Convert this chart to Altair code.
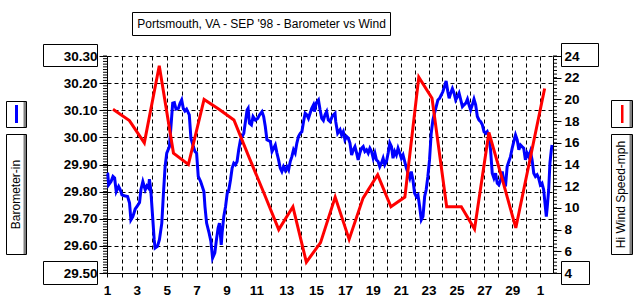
import altair as alt
import pandas as pd

# ---- data ----
baro_day = [1.00, 1.05, 1.11, 1.27, 1.40, 1.51, 1.62, 1.78, 1.89, 2.00, 2.16, 2.38, 2.51, 2.60, 2.73, 2.89,
            3.00, 3.18, 3.27, 3.40, 3.56, 3.67, 3.78, 3.84, 3.93, 4.07, 4.16, 4.22, 4.38, 4.51, 4.67, 4.78,
            4.89, 5.00, 5.18, 5.29, 5.40, 5.51, 5.62, 5.78, 5.89, 6.00, 6.11, 6.22, 6.33, 6.51, 6.62, 6.78,
            6.89, 7.00, 7.11, 7.27, 7.38, 7.49, 7.56, 7.67, 7.84, 7.96, 8.07, 8.22, 8.33, 8.44, 8.53, 8.65,
            8.71, 8.82, 8.94, 9.05, 9.16, 9.27, 9.38, 9.49, 9.60, 9.71, 9.82, 9.94, 10.05, 10.16, 10.27, 10.38,
            10.45, 10.54, 10.67, 10.78, 10.94, 11.09, 11.22, 11.38, 11.49, 11.60, 11.71, 11.82, 11.94, 12.05,
            12.16, 12.27, 12.38, 12.49, 12.60, 12.71, 12.82, 12.94, 13.05, 13.16, 13.27, 13.38, 13.49, 13.60,
            13.71, 13.82, 13.94, 14.05, 14.16, 14.27, 14.38, 14.49, 14.60, 14.71, 14.82, 14.89, 15.00, 15.16,
            15.27, 15.38, 15.49, 15.60, 15.71, 15.82, 15.94, 16.09, 16.17, 16.29, 16.34, 16.48, 16.65, 16.76,
            16.88, 17.00, 17.12, 17.24, 17.36, 17.48, 17.60, 17.72, 17.84, 17.95, 18.07, 18.19, 18.31, 18.43,
            18.55, 18.67, 18.79, 18.91, 19.03, 19.15, 19.26, 19.38, 19.50, 19.62, 19.74, 19.86, 19.98, 20.10,
            20.22, 20.34, 20.45, 20.57, 20.69, 20.81, 20.93, 21.05, 21.17, 21.29, 21.41, 21.53, 21.65, 21.76,
            21.88, 22.00, 22.12, 22.24, 22.36, 22.48, 22.60, 22.72, 22.83, 22.95, 23.07, 23.19, 23.31, 23.43,
            23.55, 23.67, 23.79, 23.91, 24.03, 24.14, 24.26, 24.38, 24.48, 24.59, 24.71, 24.83, 24.95, 25.07,
            25.19, 25.31, 25.43, 25.55, 25.67, 25.79, 25.90, 26.02, 26.14, 26.26, 26.38, 26.50, 26.62, 26.74,
            26.86, 26.98, 27.10, 27.21, 27.33, 27.45, 27.57, 27.69, 27.81, 27.93, 28.05, 28.17, 28.29, 28.40,
            28.52, 28.64, 28.76, 28.88, 29.00, 29.12, 29.24, 29.36, 29.48, 29.60, 29.71, 29.83, 29.95, 30.07,
            30.19, 30.31, 30.43, 30.55, 30.67, 30.79, 30.90, 31.02, 31.14, 31.26, 31.38, 31.45, 31.52, 31.62,
            31.71, 31.81, 31.86]
baro_in = [29.868, 29.866, 29.825, 29.837, 29.856, 29.850, 29.800, 29.819, 29.807, 29.788, 29.785, 29.782,
           29.758, 29.696, 29.708, 29.736, 29.745, 29.760, 29.807, 29.837, 29.807, 29.821, 29.813, 29.846,
           29.807, 29.696, 29.623, 29.592, 29.598, 29.623, 29.684, 29.794, 29.892, 29.942, 29.966, 30.046,
           30.126, 30.128, 30.104, 30.107, 30.126, 30.138, 30.107, 30.097, 30.104, 30.083, 29.997, 29.966,
           29.948, 29.942, 29.856, 29.837, 29.819, 29.800, 29.745, 29.684, 29.647, 29.616, 29.555, 29.574,
           29.623, 29.666, 29.684, 29.604, 29.649, 29.708, 29.745, 29.794, 29.807, 29.843, 29.887, 29.905,
           29.899, 29.911, 29.954, 29.991, 30.003, 30.015, 30.058, 30.101, 30.107, 30.052, 30.046, 30.077,
           30.064, 30.070, 30.083, 30.095, 30.077, 30.040, 29.991, 29.988, 29.985, 29.948, 29.960, 29.972,
           29.942, 29.917, 29.887, 29.874, 29.892, 29.878, 29.892, 29.880, 29.911, 29.929, 29.954, 29.942,
           29.978, 30.003, 30.015, 30.021, 30.058, 30.089, 30.083, 30.070, 30.089, 30.107, 30.119, 30.095,
           30.126, 30.138, 30.101, 30.070, 30.062, 30.083, 30.095, 30.064, 30.058, 30.077, 30.083, 30.089,
           30.058, 30.015, 30.028, 30.009, 30.021, 29.991, 30.003, 29.997, 29.979, 29.935, 29.954, 29.966,
           29.942, 29.917, 29.942, 29.960, 29.966, 29.948, 29.954, 29.942, 29.960, 29.948, 29.923, 29.942,
           29.917, 29.911, 29.892, 29.905, 29.923, 29.899, 29.911, 29.942, 29.979, 29.966, 29.923, 29.948,
           29.935, 29.960, 29.942, 29.923, 29.935, 29.911, 29.887, 29.868, 29.850, 29.874, 29.843, 29.794,
           29.782, 29.788, 29.745, 29.696, 29.708, 29.782, 29.807, 29.856, 29.917, 30.015, 30.064, 30.089,
           30.113, 30.138, 30.144, 30.156, 30.169, 30.187, 30.208, 30.169, 30.144, 30.163, 30.180, 30.163,
           30.138, 30.150, 30.163, 30.138, 30.113, 30.120, 30.126, 30.141, 30.120, 30.101, 30.120, 30.141,
           30.120, 30.077, 30.064, 30.058, 30.046, 30.021, 30.015, 30.021, 30.003, 29.954, 29.868, 29.850,
           29.868, 29.831, 29.825, 29.843, 29.874, 29.837, 29.819, 29.892, 29.911, 29.929, 29.960, 29.985,
           30.009, 29.991, 29.954, 29.972, 29.966, 29.960, 29.917, 29.942, 29.929, 29.948, 29.917, 29.868,
           29.856, 29.862, 29.850, 29.825, 29.831, 29.807, 29.745, 29.708, 29.745, 29.807, 29.905, 29.954,
           29.972]

wind_day = [1.4, 2.5, 3.5, 4.5, 5.45, 6.45, 7.5, 8.5, 9.5, 10.5, 11.5, 12.5, 13.45, 14.35, 15.3, 16.3,
            17.3, 18.3, 19.35, 20.3, 21.3, 22.3, 23.25, 24.3, 25.35, 26.3, 27.33, 28.3, 29.26, 30.3, 31.33]
wind_mph = [19.1, 18.05, 16.0, 23.1, 15.05, 14.0, 20.0, 19.1, 18.1, 14.7, 11.4, 8.0, 10.1, 5.0, 6.8, 11.0,
            7.1, 10.9, 13.05, 10.1, 11.0, 22.05, 20.1, 10.1, 10.1, 8.05, 16.95, 12.6, 8.15, 14.6, 21.0]

x_tick_days = list(range(1, 32))
baro_ticks = [29.50, 29.60, 29.70, 29.80, 29.90, 30.00, 30.10, 30.20, 30.30]
wind_ticks = [4, 6, 8, 10, 12, 14, 16, 18, 20, 22, 24]

title_text = "Portsmouth, VA - SEP '98 - Barometer vs Wind"
baro_label = "Barometer-in"
wind_label = "Hi Wind Speed-mph"

FONT = "Liberation Sans"
W, H = 446, 217

baro_df = pd.DataFrame({"day": baro_day, "v": baro_in})
wind_df = pd.DataFrame({"day": wind_day, "v": wind_mph})
baro_minor_df = pd.DataFrame({"v": [round(29.5 + i * 0.01, 2) for i in range(81)]})
wind_minor_df = pd.DataFrame({"v": [4 + i / 3 for i in range(61)]})
one = pd.DataFrame({"k": [0]})

x_scale = alt.Scale(domain=[1, 16, 31.93], range=[0, 224, W], nice=False, zero=False)
x_axis = alt.Axis(values=x_tick_days, format="d",
                  labelExpr="datum.value % 2 == 1 ? (datum.value == 31 ? '1' : datum.label) : ''",
                  grid=True, gridDash=[4, 3], gridColor="black", gridOpacity=1, gridWidth=1,
                  domainColor="black", domainWidth=1, tickColor="black", tickSize=4, tickWidth=1,
                  labelFont=FONT, labelFontWeight="bold", labelFontSize=13.5, labelColor="black",
                  labelPadding=6, labelOverlap=False, labelFlush=False, labelBound=False, title=None)
X = alt.X("day:Q", scale=x_scale, axis=x_axis)

left_scale = alt.Scale(domain=[29.5, 30.3], nice=False, zero=False)
left_axis = alt.Axis(values=baro_ticks, format=".2f", orient="left",
                     grid=True, gridDash=[4, 3], gridColor="black", gridOpacity=1, gridWidth=1,
                     domainColor="black", domainWidth=1, tickColor="black", tickSize=8, tickWidth=1,
                     labelFont=FONT, labelFontWeight="bold", labelFontSize=13.5, labelColor="black",
                     labelPadding=2, labelOverlap=False, labelFlush=False, labelBound=False, title=None)
YL = alt.Y("v:Q", scale=left_scale, axis=left_axis)

right_scale = alt.Scale(domain=[4, 24], nice=False, zero=False)
right_axis = alt.Axis(values=wind_ticks, format="d", orient="right", grid=False,
                      domainColor="black", domainWidth=1, tickColor="black", tickSize=8, tickWidth=1,
                      labelFont=FONT, labelFontWeight="bold", labelFontSize=13.5, labelColor="black",
                      labelPadding=3, labelOverlap=False, labelFlush=False, labelBound=False, title=None)
YR = alt.Y("v:Q", scale=right_scale, axis=right_axis)

left_minor = alt.Chart(baro_minor_df).mark_rule(color="black", strokeWidth=1).encode(
    y=YL, x=alt.value(-4), x2=alt.value(0))
blue = alt.Chart(baro_df).mark_line(color="#0000ff", strokeWidth=3).encode(x=X, y=YL)
right_minor = alt.Chart(wind_minor_df).mark_rule(color="black", strokeWidth=1).encode(
    y=YR, x=alt.value(W), x2=alt.value(W + 4))
red = alt.Chart(wind_df).mark_line(color="#ff0000", strokeWidth=3).encode(x=X, y=YR)

left_group = alt.layer(left_minor, blue)
right_group = alt.layer(right_minor, red)


def box(x1, x2, y1, y2, fill="transparent", stroke="black"):
    kw = dict(fill=fill)
    if stroke:
        kw.update(stroke=stroke, strokeWidth=1)
    else:
        kw.update(strokeWidth=0)
    return alt.Chart(one).mark_rect(**kw).encode(
        x=alt.value(x1), x2=alt.value(x2), y=alt.value(y1), y2=alt.value(y2))


def label(txt, x, y, size=12, angle=0, weight="normal"):
    return alt.Chart(one).mark_text(text=txt, font=FONT, fontSize=size, fontWeight=weight,
                                    color="black", align="center", baseline="middle",
                                    angle=angle).encode(x=alt.value(x), y=alt.value(y))


decor = [
    box(25.5, 283.5, -43.5, -20.5),
    label(title_text, 154.5, -32),
    box(-63.5, -9.5, -11.5, 10.5),
    box(-63.5, -9.5, 205.5, 228.5),
    box(454.5, 491.5, -12.5, 10.5),
    box(454.5, 482.5, 205.5, 228.5),
    # left legend
    box(-83.5, -80.5, 46, 71, fill="#808080", stroke=None),
    box(-100.5, -80.5, 45.5, 71.5),
    box(-92, -89, 49, 67, fill="#0000ff", stroke=None),
    box(-83.5, -80.5, 79, 198, fill="#808080", stroke=None),
    box(-100.5, -80.5, 78.5, 198.5),
    label(baro_label, -91, 138.5, angle=270),
    # right legend
    box(522.5, 525.5, 45, 71, fill="#808080", stroke=None),
    box(504.5, 525.5, 44.5, 71.5),
    box(514, 516.5, 49, 67, fill="#ff0000", stroke=None),
    box(522.5, 525.5, 79, 198, fill="#808080", stroke=None),
    box(504.5, 525.5, 78.5, 198.5),
    label(wind_label, 514, 138.5, angle=270),
]

chart = alt.layer(left_group, right_group, *decor).resolve_scale(y="independent").properties(
    width=W, height=H,
    padding={"left": 107, "top": 56, "right": 636 - 107 - W, "bottom": 299 - 56 - H},
    autosize=alt.AutoSizeParams(type="none"),
    background="white",
).configure_view(strokeWidth=0)

chart.save("out.html", embed_options={"renderer": "svg", "actions": False})
